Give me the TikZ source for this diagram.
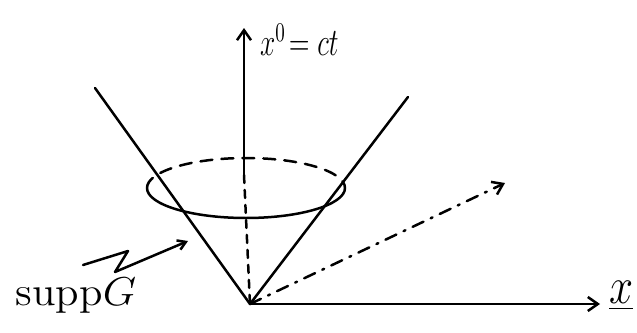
\documentclass[tikz,border=0pt]{standalone}
\usetikzlibrary{arrows.meta}
\begin{document}
\begin{tikzpicture}[x=1pt,y=-1pt,
  ln/.style={line width=2.5pt,line cap=round,line join=round},
  ax/.style={ln,-{Straight Barb[length=10pt,width=14pt,line width=2.5pt]}},
  lbl/.style={inner sep=0pt}]
\useasboundingbox (0,0) rectangle (637,332);
\coordinate (o) at (250,304);
\coordinate (ytop) at (244,28);
\coordinate (xend) at (600,304);
\coordinate (lt) at (95,88);
\coordinate (rt) at (408,97);
\coordinate (dend) at (505,183);
\coordinate (ec) at (246,188);
% axes
\draw[ax] (244,175) -- (ytop);
\draw[ln,dashed,dash pattern=on 8pt off 7pt] (244,175) -- (o);
\draw[ax] (o) -- (xend);
% cone
\draw[ln] (lt) -- (o) -- (rt);
% ellipse
\draw[ln] (ec) ++(99,0) arc[start angle=0,end angle=180,x radius=99,y radius=30];
\draw[ln,dashed,dash pattern=on 12pt off 9pt] (ec) ++(-99,0) arc[start angle=180,end angle=360,x radius=99,y radius=30];
% dash-dot arrow
\draw[ax,dash pattern=on 12pt off 8pt on 2pt off 8pt] (o) -- (dend);
% labels
\node[lbl,anchor=west] (t0) at (260,40) {\scalebox{1.9}[2.7]{\Large$x^0\!=ct$}};
\node[lbl,anchor=west] (tx) at (609,296) {\scalebox{3.0}[3.6]{\Large$\underline{x}$}};
\node[lbl,anchor=center] (supp) at (76,296) {\scalebox{3.0}[2.8]{\Large supp$G$}};
\coordinate (zz1) at (83,265);
\coordinate (zz2) at (128,251);
\coordinate (zz3) at (115,272);
\coordinate (zz4) at (188,241);
\draw[ln,-{Straight Barb[length=8pt,width=10pt,line width=2.5pt]}] (zz1) -- (zz2) -- (zz3) -- (zz4);
\end{tikzpicture}
\end{document}
